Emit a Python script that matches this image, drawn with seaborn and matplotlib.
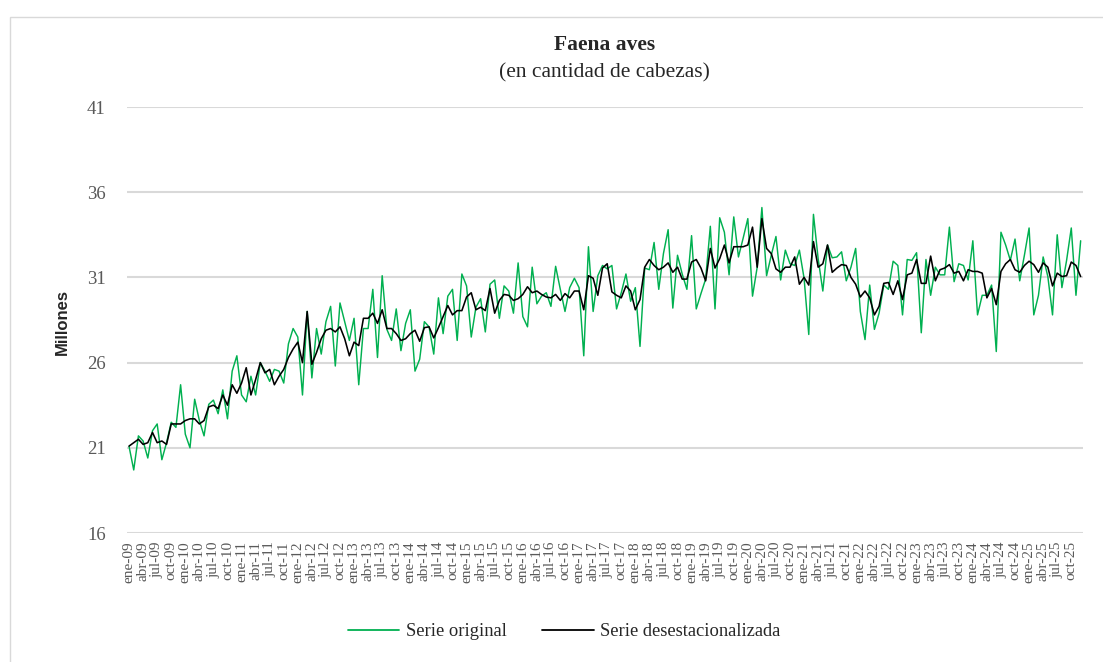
import numpy as np
import pandas as pd
import matplotlib
matplotlib.use("Agg")
import matplotlib.pyplot as plt
import seaborn as sns
from matplotlib.patches import Rectangle
from matplotlib.lines import Line2D

meses = ["ene", "feb", "mar", "abr", "may", "jun", "jul", "ago", "sep", "oct", "nov", "dic"]
anios = list(range(2009, 2026))
periodos = [f"{m}-{str(a)[2:]}" for a in anios for m in meses]

serie_original = [
    21.08, 19.7, 21.7, 21.4, 20.4, 22.0, 22.4, 20.3, 21.3, 22.5, 22.2, 24.7,
    21.8, 21.0, 23.85, 22.6, 21.7, 23.55, 23.8, 23.0, 24.4, 22.7, 25.5, 26.4,
    24.1, 23.7, 25.2, 24.1, 26.0, 25.5, 24.9, 25.6, 25.5, 24.8, 27.1, 28.0,
    27.5, 24.1, 29.0, 25.1, 28.0, 26.5, 28.4, 29.3, 25.8, 29.5, 28.4, 27.3,
    28.6, 24.7, 28.0, 28.0, 30.3, 26.3, 31.1, 27.95, 27.3, 29.15, 26.7, 28.3,
    29.1, 25.5, 26.2, 28.4, 28.1, 26.5, 29.8, 27.7, 29.9, 30.3, 27.3, 31.2,
    30.5, 27.5, 29.25, 29.75, 27.8, 30.6, 30.85, 28.6, 30.5, 30.2, 28.9, 31.85,
    28.7, 28.1, 31.6, 29.45, 29.9, 30.1, 29.3, 31.65, 30.3, 29.0, 30.4, 30.95,
    30.4, 26.4, 32.8, 29.0, 31.1, 31.7, 31.5, 31.7, 29.15, 30.1, 31.2, 29.6,
    30.4, 26.95, 31.55, 31.45, 33.05, 30.3, 32.4, 33.8, 29.2, 32.3, 31.2, 30.3,
    33.45, 29.15, 30.05, 30.9, 34.0, 29.15, 34.5, 33.65, 31.15, 34.55, 32.2, 33.3,
    34.45, 29.9, 31.6, 35.1, 31.1, 32.3, 33.4, 30.85, 32.6, 31.8, 31.7, 32.6,
    30.95, 27.65, 34.7, 32.1, 30.2, 32.9, 32.15, 32.2, 32.5, 30.8, 31.6, 32.7,
    29.0, 27.35, 30.55, 27.95, 28.9, 30.55, 30.3, 31.95, 31.7, 28.8, 32.05, 32.0,
    32.45, 27.75, 32.05, 29.95, 31.6, 31.15, 31.15, 33.95, 30.75, 31.8, 31.7, 30.85,
    33.15, 28.8, 29.95, 29.95, 30.55, 26.65, 33.65, 32.9, 32.0, 33.25, 30.8, 32.3,
    33.9, 28.8, 29.95, 32.2, 31.05, 28.8, 33.5, 30.4, 32.0, 33.9, 29.95, 33.15,
]

serie_desest = [
    21.1, 21.3, 21.5, 21.2, 21.3, 21.9, 21.3, 21.4, 21.2, 22.4, 22.4, 22.4,
    22.6, 22.7, 22.7, 22.4, 22.6, 23.4, 23.5, 23.3, 24.1, 23.5, 24.7, 24.2,
    24.8, 25.7, 24.1, 25.0, 26.0, 25.4, 25.6, 24.7, 25.2, 25.6, 26.3, 26.8,
    27.2, 26.0, 29.0, 25.9, 26.6, 27.4, 27.9, 28.0, 27.8, 28.1, 27.4, 26.4,
    27.2, 27.0, 28.6, 28.6, 28.9, 28.3, 29.1, 28.0, 28.0, 27.7, 27.3, 27.4,
    27.7, 27.9, 27.25, 28.05, 28.1, 27.45, 28.05, 28.7, 29.35, 28.8, 29.05, 29.05,
    29.85, 30.1, 29.1, 29.25, 29.05, 30.35, 28.9, 29.65, 30.0, 29.95, 29.65, 29.75,
    30.0, 30.45, 30.1, 30.2, 30.0, 29.85, 29.8, 30.0, 29.65, 30.05, 29.8, 30.2,
    30.2, 29.1, 31.1, 30.95, 29.95, 31.55, 31.8, 30.15, 29.95, 29.8, 30.5, 30.2,
    29.1, 29.7, 31.6, 32.05, 31.7, 31.45, 31.6, 31.85, 31.3, 31.6, 30.9, 30.9,
    31.9, 32.05, 31.55, 30.8, 32.7, 31.55, 32.1, 32.9, 31.85, 32.8, 32.8, 32.8,
    32.9, 33.95, 31.6, 34.45, 32.7, 32.4, 31.5, 31.3, 31.6, 31.6, 32.2, 30.6,
    31.0, 30.55, 33.1, 31.6, 31.8, 32.9, 31.3, 31.55, 31.75, 31.7, 31.0, 30.6,
    29.85, 30.2, 29.8, 28.8, 29.3, 30.65, 30.7, 30.0, 30.8, 29.7, 31.15, 31.25,
    32.05, 30.65, 30.65, 32.25, 30.8, 31.45, 31.55, 31.75, 31.25, 31.35, 30.8, 31.45,
    31.35, 31.35, 31.25, 29.8, 30.35, 29.4, 31.35, 31.8, 32.05, 31.45, 31.3, 31.7,
    31.95, 31.75, 31.3, 31.85, 31.6, 30.5, 31.25, 31.05, 31.1, 31.9, 31.7, 31.05,
]

y_ticks = [16, 21, 26, 31, 36, 41]

df = pd.DataFrame({
    "idx": np.arange(len(periodos)),
    "periodo": periodos,
    "Serie original": serie_original,
    "Serie desestacionalizada": serie_desest,
})

sns.set_theme(style="white")
plt.rcParams["font.family"] = ["Liberation Serif", "DejaVu Serif"]

W, H = 1103, 662
fig = plt.figure(figsize=(W / 100, H / 100), dpi=100)
fig.patch.set_facecolor("white")

# outer chart frame
fig.patches.append(Rectangle((10 / W, -0.2), 1.2, 1 - 17 / H + 0.2,
                             transform=fig.transFigure, fill=False,
                             edgecolor="#d9d9d9", lw=1.0, zorder=0))

left, right = 126.7 / W, 1083 / W
bottom, top = 1 - 533 / H, 1 - 107 / H
ax = fig.add_axes([left, bottom, right - left, top - bottom])

green = "#00b050"
sns.lineplot(data=df, x="idx", y="Serie original", ax=ax, color=green,
             lw=1.05, estimator=None, sort=False)
sns.lineplot(data=df, x="idx", y="Serie desestacionalizada", ax=ax,
             color="black", lw=1.15, estimator=None, sort=False)

ax.set_xlim(-0.5, len(periodos) - 0.5)
ax.set_ylim(16, 41)
ax.set_yticks(y_ticks)
ax.set_yticklabels([str(v) for v in y_ticks])
ax.yaxis.grid(True, color="#d9d9d9", lw=1.5)
ax.xaxis.grid(False)
ax.set_axisbelow(True)
for s in ax.spines.values():
    s.set_visible(False)

xt = list(range(0, len(periodos), 3))
ax.set_xticks(xt)
ax.set_xticklabels([periodos[i] for i in xt], rotation=90,
                   fontsize=11, color="#595959")
ax.tick_params(axis="x", length=0, pad=6)
ax.tick_params(axis="y", length=0, pad=15, labelsize=13.5, labelcolor="#595959")
ax.set_xlabel("")
ax.set_ylabel("")

fig.text(62 / W, 1 - 322 / H, "Millones", rotation=90, ha="center",
         va="center", fontsize=12, fontweight="bold",
         family=["Liberation Sans", "DejaVu Sans"])

cx = (left + right) / 2
fig.text(cx, 1 - 45 / H, "Faena aves", ha="center", va="center",
         fontsize=15.5, fontweight="bold")
fig.text(cx, 1 - 73 / H, "(en cantidad de cabezas)", ha="center",
         va="center", fontsize=15.5)

handles = [Line2D([], [], color=green, lw=1.3),
           Line2D([], [], color="black", lw=1.3)]
fig.legend(handles, ["Serie original", "Serie desestacionalizada"],
           loc="center", bbox_to_anchor=(564 / W, 1 - 632 / H), ncol=2,
           frameon=False, fontsize=13.3, handlelength=2.8,
           handletextpad=0.35, columnspacing=1.9)

fig.savefig("out.png", dpi=100)
